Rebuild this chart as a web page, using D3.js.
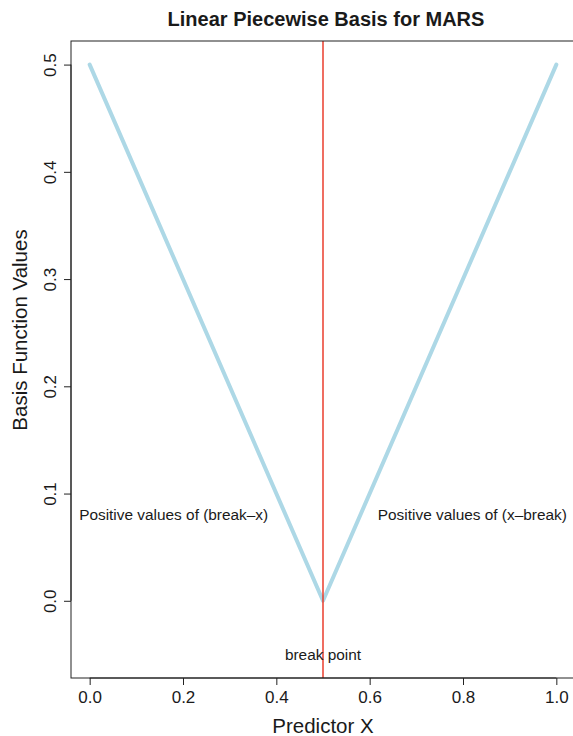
<!DOCTYPE html>
<html>
<head>
<meta charset="utf-8">
<script src="https://cdn.jsdelivr.net/npm/d3@7"></script>
<style>
  html, body { margin: 0; padding: 0; background: #fff; }
  svg text { font-family: "Liberation Sans", Arial, Helvetica, sans-serif; fill: #1a1a1a; }
</style>
</head>
<body>
<svg id="chart" width="573" height="736"></svg>
<script>
// ---- data ----
const predictorX = [0, 0.5, 1];
const basisValues = [0.5, 0, 0.5];
const breakPoint = 0.5;
const xTicks = [0, 0.2, 0.4, 0.6, 0.8, 1.0];
const yTicks = [0, 0.1, 0.2, 0.3, 0.4, 0.5];
const xDomain = [-0.04, 1.04];
const yDomain = [-0.072, 0.522];
const labelTexts = ["Positive values of (break\u2013x)", "Positive values of (x\u2013break)", "break point"];
const labelX = [0.18, 0.82, 0.5];
const labelY = [0.08, 0.08, -0.05];
const titleText = "Linear Piecewise Basis for MARS";
const xTitle = "Predictor X";
const yTitle = "Basis Function Values";

// ---- layout ----
const svg = d3.select("#chart");
const mLeft = 71, mRight = 575, mTop = 41, mBottom = 678;

const x = d3.scaleLinear().domain(xDomain).range([mLeft, mRight]);
const y = d3.scaleLinear().domain(yDomain).range([mBottom, mTop]);

// basis line
const line = d3.line().x((d, i) => x(predictorX[i])).y(d => y(d));
svg.append("path")
  .datum(basisValues)
  .attr("d", line)
  .attr("fill", "none")
  .attr("stroke", "#add8e6")
  .attr("stroke-width", 4)
  .attr("stroke-linejoin", "round")
  .attr("stroke-linecap", "round");

// break line
svg.append("line")
  .attr("x1", x(breakPoint)).attr("x2", x(breakPoint))
  .attr("y1", mTop).attr("y2", mBottom)
  .attr("stroke", "#e8301e").attr("stroke-width", 1.4);

// box
svg.append("rect")
  .attr("x", mLeft).attr("y", mTop)
  .attr("width", mRight - mLeft).attr("height", mBottom - mTop)
  .attr("fill", "none").attr("stroke", "#222").attr("stroke-width", 1);

// x axis
const xAxis = d3.axisBottom(x).tickValues(xTicks).tickSize(7).tickPadding(6)
  .tickFormat(d3.format(".1f"));
const gx = svg.append("g").attr("transform", `translate(0,${mBottom})`).call(xAxis);
gx.select(".domain").attr("d", `M${x(xTicks[0])},0H${x(xTicks[xTicks.length-1])}`).attr("stroke", "#222");
gx.selectAll(".tick line").attr("stroke", "#222");
gx.selectAll(".tick text").attr("font-size", 17).attr("fill", "#1a1a1a")
  .attr("font-family", "Liberation Sans, Arial, sans-serif")
  .attr("dy", null).attr("y", 24.5);

// y axis
const yAxis = d3.axisLeft(y).tickValues(yTicks).tickSize(7).tickFormat(d3.format(".1f"));
const gy = svg.append("g").attr("transform", `translate(${mLeft},0)`).call(yAxis);
gy.select(".domain").attr("d", `M0,${y(yTicks[0])}V${y(yTicks[yTicks.length-1])}`).attr("stroke", "#222");
gy.selectAll(".tick line").attr("stroke", "#222");
gy.selectAll(".tick text")
  .attr("font-size", 17).attr("fill", "#1a1a1a")
  .attr("font-family", "Liberation Sans, Arial, sans-serif")
  .attr("x", null).attr("dy", null)
  .attr("text-anchor", "middle")
  .attr("transform", "translate(-15,0) rotate(-90)")
  .attr("y", 0);

// annotations
svg.selectAll("text.annot")
  .data(labelTexts)
  .enter().append("text")
  .attr("class", "annot")
  .attr("x", (d, i) => x(labelX[i]))
  .attr("y", (d, i) => y(labelY[i]))
  .attr("dy", "0.35em")
  .attr("text-anchor", "middle")
  .attr("font-size", 15.4)
  .text(d => d);

// title
svg.append("text")
  .attr("x", (mLeft + mRight) / 2 + 3).attr("y", 26)
  .attr("text-anchor", "middle")
  .attr("font-size", 20).attr("font-weight", "bold")
  .text(titleText);

// axis titles
svg.append("text")
  .attr("x", x(0.5)).attr("y", 733)
  .attr("text-anchor", "middle")
  .attr("font-size", 20.5)
  .text(xTitle);

svg.append("text")
  .attr("transform", "translate(27,330) rotate(-90)")
  .attr("text-anchor", "middle")
  .attr("font-size", 20.5)
  .text(yTitle);
</script>
</body>
</html>
